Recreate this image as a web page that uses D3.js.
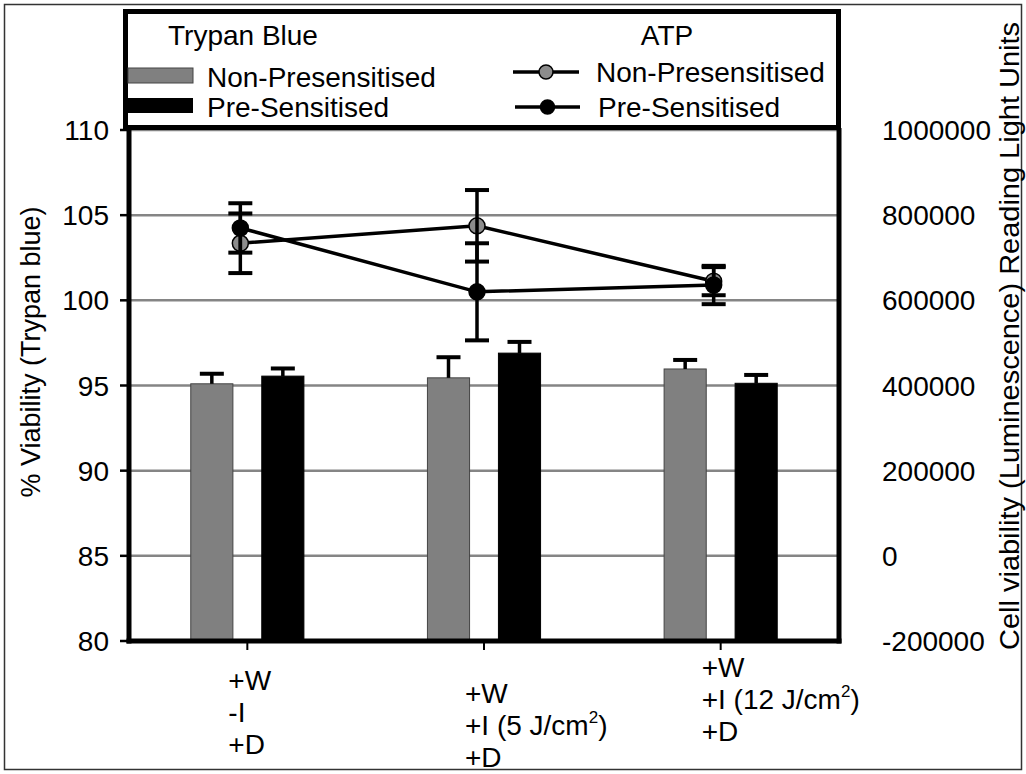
<!DOCTYPE html>
<html>
<head>
<meta charset="utf-8">
<script src="https://cdn.jsdelivr.net/npm/d3@7"></script>
<style>
  body { margin: 0; background: #fff; }
  text { font-family: "Liberation Sans", Arial, Helvetica, sans-serif; fill: #000; }
</style>
</head>
<body>
<div id="chart-container"></div>
<script>
// data
let categories = ["noIrr", "irr5", "irr12"];
let xLabelLines = [
    ["+W", "-I", "+D"],
    ["+W", "+I (5 J/cm^2)", "+D"],
    ["+W", "+I (12 J/cm^2)", "+D"]
];
let trypanNon = [95.1, 95.45, 95.97];
let trypanNonErr = [0.59, 1.21, 0.53];
let trypanPre = [95.55, 96.9, 95.13];
let trypanPreErr = [0.45, 0.66, 0.49];
let atpNon = [734000, 775000, 645000];
let atpNonErr = [70000, 84000, 33000];
let atpPre = [770000, 620000, 636000];
let atpPreErr = [58000, 114000, 45000];
let leftTicks = [80, 85, 90, 95, 100, 105, 110];
let rightTicks = [-200000, 0, 200000, 400000, 600000, 800000, 1000000];

let margin = {top: 130, right: 187, bottom: 133, left: 129};
let W = 1026, H = 774;
let grey = '#858585';
let labelTop = [690, 703, 677];   // first baseline of each category label block

let svg = d3.select('#chart-container').append('svg')
    .attr('width', W)
    .attr('height', H);

// outer frame
svg.append('rect')
    .attr('x', 4.5).attr('y', 4.5)
    .attr('width', W - 9).attr('height', H - 9)
    .attr('fill', 'none').attr('stroke', '#333').attr('stroke-width', 1.5);

let x = d3.scaleBand()
    .domain(categories)
    .range([margin.left, W - margin.right])
    .padding(0);
let y = d3.scaleLinear()
    .domain([80, 110])
    .range([H - margin.bottom, margin.top]);
let yR = d3.scaleLinear()
    .domain([-200000, 1000000])
    .range([H - margin.bottom, margin.top]);

let bw = x.bandwidth();
let barW = bw * 0.178;
let barOff = bw * 0.15;
let cx = function(i) { return x(categories[i]) + bw / 2; };
let px = function(i) { return cx(i) - 7; };

// gridlines
svg.append('g').selectAll('line')
    .data(leftTicks.slice(1))
    .enter().append('line')
    .attr('x1', margin.left).attr('x2', W - margin.right)
    .attr('y1', function(d) { return y(d); })
    .attr('y2', function(d) { return y(d); })
    .attr('stroke', grey).attr('stroke-width', 2.5);

// ----- bars ----- //
let barSeries = [
    {vals: trypanNon, err: trypanNonErr, fill: '#808080', stroke: '#444', dx: -barOff},
    {vals: trypanPre, err: trypanPreErr, fill: '#000', stroke: '#000', dx: barOff}
];
barSeries.forEach(function(s) {
    let g = svg.append('g');
    g.selectAll('rect')
        .data(s.vals)
        .enter().append('rect')
        .attr('x', function(d, i) { return cx(i) + s.dx - barW / 2; })
        .attr('width', barW)
        .attr('y', function(d) { return y(d); })
        .attr('height', function(d) { return y(80) - y(d); })
        .attr('fill', s.fill)
        .attr('stroke', s.stroke).attr('stroke-width', 1);
    // upper error bars only
    g.selectAll('line.v')
        .data(s.vals)
        .enter().append('line')
        .attr('class', 'v')
        .attr('x1', function(d, i) { return cx(i) + s.dx; })
        .attr('x2', function(d, i) { return cx(i) + s.dx; })
        .attr('y1', function(d) { return y(d); })
        .attr('y2', function(d, i) { return y(d + s.err[i]); })
        .attr('stroke', '#000').attr('stroke-width', 3.5);
    g.selectAll('line.c')
        .data(s.vals)
        .enter().append('line')
        .attr('class', 'c')
        .attr('x1', function(d, i) { return cx(i) + s.dx - 12; })
        .attr('x2', function(d, i) { return cx(i) + s.dx + 12; })
        .attr('y1', function(d, i) { return y(d + s.err[i]); })
        .attr('y2', function(d, i) { return y(d + s.err[i]); })
        .attr('stroke', '#000').attr('stroke-width', 4);
});

// ----- ATP lines ----- //
let atpSeries = [
    {vals: atpNon, err: atpNonErr, fill: '#8c8c8c'},
    {vals: atpPre, err: atpPreErr, fill: '#000'}
];
let line = d3.line()
    .x(function(d, i) { return px(i); })
    .y(function(d) { return yR(d); });

atpSeries.forEach(function(s) {
    svg.append('path')
        .datum(s.vals)
        .attr('d', line)
        .attr('fill', 'none')
        .attr('stroke', '#000').attr('stroke-width', 3.5);
});
atpSeries.forEach(function(s) {
    let g = svg.append('g');
    g.selectAll('circle')
        .data(s.vals)
        .enter().append('circle')
        .attr('cx', function(d, i) { return px(i); })
        .attr('cy', function(d) { return yR(d); })
        .attr('r', 8)
        .attr('fill', s.fill)
        .attr('stroke', '#000').attr('stroke-width', 1.5);
    g.selectAll('line.v')
        .data(s.vals)
        .enter().append('line')
        .attr('class', 'v')
        .attr('x1', function(d, i) { return px(i); })
        .attr('x2', function(d, i) { return px(i); })
        .attr('y1', function(d, i) { return yR(d - s.err[i]); })
        .attr('y2', function(d, i) { return yR(d + s.err[i]); })
        .attr('stroke', '#000').attr('stroke-width', 3.5);
    [-1, 1].forEach(function(sign) {
        g.selectAll('line.c' + (sign + 1))
            .data(s.vals)
            .enter().append('line')
            .attr('class', 'c' + (sign + 1))
            .attr('x1', function(d, i) { return px(i) - 12; })
            .attr('x2', function(d, i) { return px(i) + 12; })
            .attr('y1', function(d, i) { return yR(d + sign * s.err[i]); })
            .attr('y2', function(d, i) { return yR(d + sign * s.err[i]); })
            .attr('stroke', '#000').attr('stroke-width', 4);
    });
});

// ----- axes ----- //
let x0 = margin.left, x1 = W - margin.right, yb = y(80), yt = y(110);
svg.append('line').attr('x1', x0).attr('x2', x0).attr('y1', yt - 2).attr('y2', yb + 2.5)
    .attr('stroke', '#000').attr('stroke-width', 5);
svg.append('line').attr('x1', x1).attr('x2', x1).attr('y1', yt - 2).attr('y2', yb + 2.5)
    .attr('stroke', '#000').attr('stroke-width', 5);
svg.append('line').attr('x1', x0 - 2.5).attr('x2', x1 + 2.5).attr('y1', yb).attr('y2', yb)
    .attr('stroke', '#000').attr('stroke-width', 5);

// left ticks + labels
let lt = svg.append('g');
lt.selectAll('line')
    .data(leftTicks)
    .enter().append('line')
    .attr('x1', x0 - 9).attr('x2', x0)
    .attr('y1', function(d) { return y(d); })
    .attr('y2', function(d) { return y(d); })
    .attr('stroke', '#000').attr('stroke-width', 2.5);
lt.selectAll('text')
    .data(leftTicks)
    .enter().append('text')
    .attr('x', x0 - 20)
    .attr('y', function(d) { return y(d); })
    .attr('dy', '0.36em')
    .attr('text-anchor', 'end')
    .style('font-size', '28px')
    .text(function(d) { return d; });

// right labels
svg.append('g').selectAll('text')
    .data(rightTicks)
    .enter().append('text')
    .attr('x', x1 + 43)
    .attr('y', function(d) { return yR(d); })
    .attr('dy', '0.36em')
    .style('font-size', '28px')
    .text(function(d) { return d; });

// bottom ticks
svg.append('g').selectAll('line')
    .data(categories)
    .enter().append('line')
    .attr('x1', function(d, i) { return cx(i); })
    .attr('x2', function(d, i) { return cx(i); })
    .attr('y1', yb).attr('y2', yb + 9)
    .attr('stroke', '#000').attr('stroke-width', 2);

// category labels, left aligned lines
xLabelLines.forEach(function(lines, i) {
    lines.forEach(function(str, j) {
        let t = svg.append('text')
            .attr('x', cx(i) - 19)
            .attr('y', labelTop[i] + j * 32)
            .style('font-size', '28px');
        let parts = str.split('^');
        t.append('tspan').text(parts[0]);
        if (parts.length > 1) {
            t.append('tspan')
                .attr('dy', -12)
                .style('font-size', '17px')
                .text(parts[1].charAt(0));
            t.append('tspan')
                .attr('dy', 12)
                .text(parts[1].slice(1));
        }
    });
});

// axis titles
svg.append('text')
    .attr('transform', 'translate(40,352) rotate(-90)')
    .attr('text-anchor', 'middle')
    .style('font-size', '27px')
    .text('% Viability (Trypan blue)');
svg.append('text')
    .attr('transform', 'translate(1019,336) rotate(-90)')
    .attr('text-anchor', 'middle')
    .style('font-size', '27px')
    .attr('textLength', 628)
    .attr('lengthAdjust', 'spacingAndGlyphs')
    .text('Cell viability (Luminescence) Reading Light Units');

// ----- legend ----- //
let lg = svg.append('g');
lg.append('rect')
    .attr('x', 125.5).attr('y', 11.5)
    .attr('width', 713).attr('height', 116)
    .attr('fill', '#fff')
    .attr('stroke', '#000').attr('stroke-width', 5);
lg.append('text').attr('x', 168).attr('y', 45).style('font-size', '28px').text('Trypan Blue');
lg.append('text').attr('x', 667).attr('y', 45).attr('text-anchor', 'middle').style('font-size', '28px').text('ATP');

lg.append('rect').attr('x', 128).attr('y', 68).attr('width', 65).attr('height', 15)
    .attr('fill', '#808080').attr('stroke', '#444').attr('stroke-width', 1);
lg.append('rect').attr('x', 128).attr('y', 98).attr('width', 65).attr('height', 15)
    .attr('fill', '#000');
lg.append('text').attr('x', 207).attr('y', 87).style('font-size', '28px').text('Non-Presensitised');
lg.append('text').attr('x', 207).attr('y', 117).style('font-size', '28px').text('Pre-Sensitised');

[{y: 72, fill: '#8c8c8c', label: 'Non-Presensitised', tx: 596, x0: 513, x1: 579},
 {y: 107, fill: '#000', label: 'Pre-Sensitised', tx: 598, x0: 515, x1: 580}].forEach(function(d) {
    lg.append('line').attr('x1', d.x0).attr('x2', d.x1).attr('y1', d.y).attr('y2', d.y)
        .attr('stroke', '#000').attr('stroke-width', 3.5);
    lg.append('circle').attr('cx', (d.x0 + d.x1) / 2).attr('cy', d.y).attr('r', 7)
        .attr('fill', d.fill).attr('stroke', '#000').attr('stroke-width', 1.5);
    lg.append('text').attr('x', d.tx).attr('y', d.y + 10).style('font-size', '28px').text(d.label);
});
</script>
</body>
</html>
